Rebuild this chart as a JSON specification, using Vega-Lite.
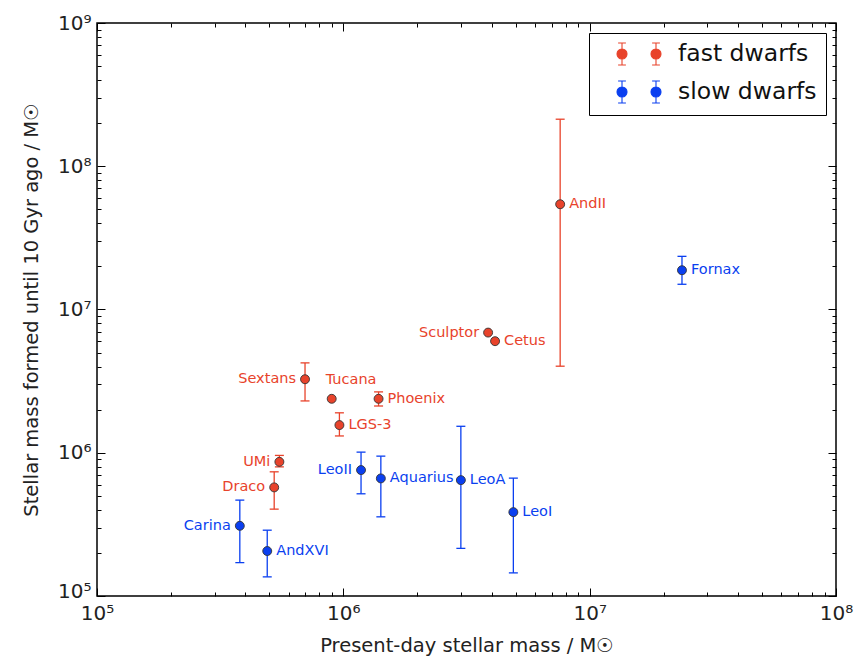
{
  "$schema": "https://vega.github.io/schema/vega-lite/v6.json",
  "width": 739,
  "height": 573,
  "autosize": "none",
  "padding": {"left": 97, "top": 23, "right": 30, "bottom": 62},
  "background": "white",
  "config": {
    "font": "DejaVu Sans",
    "view": {"stroke": "black", "strokeWidth": 1.5},
    "axis": {"grid": false, "domain": false, "tickColor": "black", "tickWidth": 1, "labelFont": "DejaVu Sans", "titleFont": "DejaVu Sans", "labelColor": "#222", "titleColor": "#222", "titleFontWeight": "normal", "labelFlush": false, "labelOverlap": false}
  },
  "data": {
    "values": [
      {"name": "AndII", "group": "fast dwarfs", "mass": 7590000, "sfm": 54300000, "lo": 4020000, "hi": 213000000},
      {"name": "Sculptor", "group": "fast dwarfs", "mass": 3870000, "sfm": 6900000, "lo": null, "hi": null},
      {"name": "Cetus", "group": "fast dwarfs", "mass": 4130000, "sfm": 6010000, "lo": null, "hi": null},
      {"name": "Sextans", "group": "fast dwarfs", "mass": 699000, "sfm": 3260000, "lo": 2300000, "hi": 4240000},
      {"name": "Tucana", "group": "fast dwarfs", "mass": 897000, "sfm": 2380000, "lo": null, "hi": null},
      {"name": "Phoenix", "group": "fast dwarfs", "mass": 1390000, "sfm": 2380000, "lo": 2120000, "hi": 2660000},
      {"name": "LGS-3", "group": "fast dwarfs", "mass": 964000, "sfm": 1560000, "lo": 1310000, "hi": 1900000},
      {"name": "UMi", "group": "fast dwarfs", "mass": 550000, "sfm": 864000, "lo": 797000, "hi": 958000},
      {"name": "Draco", "group": "fast dwarfs", "mass": 524000, "sfm": 573000, "lo": 404000, "hi": 736000},
      {"name": "Fornax", "group": "slow dwarfs", "mass": 23700000, "sfm": 18800000, "lo": 15000000, "hi": 23500000},
      {"name": "Carina", "group": "slow dwarfs", "mass": 380000, "sfm": 309000, "lo": 171000, "hi": 467000},
      {"name": "AndXVI", "group": "slow dwarfs", "mass": 491000, "sfm": 206000, "lo": 136000, "hi": 288000},
      {"name": "LeoII", "group": "slow dwarfs", "mass": 1180000, "sfm": 757000, "lo": 517000, "hi": 1010000},
      {"name": "Aquarius", "group": "slow dwarfs", "mass": 1420000, "sfm": 662000, "lo": 357000, "hi": 947000},
      {"name": "LeoA", "group": "slow dwarfs", "mass": 3000000, "sfm": 644000, "lo": 215000, "hi": 1530000},
      {"name": "LeoI", "group": "slow dwarfs", "mass": 4900000, "sfm": 385000, "lo": 145000, "hi": 665000}
    ]
  },
  "layer": [
    {
      "transform": [{"filter": "datum.lo != null"}],
      "mark": {"type": "rule", "strokeWidth": 1.3},
      "encoding": {
        "x": {"field": "mass", "type": "quantitative", "scale": {"type": "log", "domain": [100000, 100000000]},
          "axis": {"orient": "bottom", "title": "Present-day stellar mass  / M☉", "titleFontSize": 19.5, "titlePadding": 9, "labelFontSize": 20, "labelPadding": 15,
            "values": [100000,200000,300000,400000,500000,600000,700000,800000,900000,1000000,2000000,3000000,4000000,5000000,6000000,7000000,8000000,9000000,10000000,20000000,30000000,40000000,50000000,60000000,70000000,80000000,90000000,100000000],
            "labelExpr": "abs(log(datum.value)/LN10 - round(log(datum.value)/LN10)) < 0.000001 ? '10' + ['⁰','¹','²','³','⁴','⁵','⁶','⁷','⁸','⁹'][round(log(datum.value)/LN10)] : ''",
            "tickSize": {"condition": {"test": "abs(log(datum.value)/LN10 - round(log(datum.value)/LN10)) < 0.000001", "value": -8}, "value": -4}}},
        "y": {"field": "lo", "type": "quantitative", "scale": {"type": "log", "domain": [100000, 1000000000]},
          "axis": {"orient": "left", "title": "Stellar mass formed until 10 Gyr ago / M☉", "titleFontSize": 19.5, "titlePadding": 16, "labelFontSize": 20, "labelPadding": 14,
            "values": [100000,200000,300000,400000,500000,600000,700000,800000,900000,1000000,2000000,3000000,4000000,5000000,6000000,7000000,8000000,9000000,10000000,20000000,30000000,40000000,50000000,60000000,70000000,80000000,90000000,100000000,200000000,300000000,400000000,500000000,600000000,700000000,800000000,900000000,1000000000],
            "labelExpr": "abs(log(datum.value)/LN10 - round(log(datum.value)/LN10)) < 0.000001 ? '10' + ['⁰','¹','²','³','⁴','⁵','⁶','⁷','⁸','⁹'][round(log(datum.value)/LN10)] : ''",
            "labelOffset": {"condition": {"test": "datum.value < 150000", "value": -5}, "value": 0},
            "tickSize": {"condition": {"test": "abs(log(datum.value)/LN10 - round(log(datum.value)/LN10)) < 0.000001", "value": -8}, "value": -4}}},
        "y2": {"field": "hi"},
        "color": {"field": "group", "type": "nominal"}
      }
    },
    {
      "transform": [{"filter": "datum.lo != null"}, {"fold": ["lo", "hi"], "as": ["bound", "val"]}],
      "mark": {"type": "tick", "orient": "horizontal", "size": 9, "thickness": 1.3, "opacity": 1},
      "encoding": {
        "x": {"field": "mass", "type": "quantitative", "scale": {"type": "log", "domain": [100000, 100000000]},
          "axis": {"orient": "top", "title": null, "labels": false,
            "values": [100000,200000,300000,400000,500000,600000,700000,800000,900000,1000000,2000000,3000000,4000000,5000000,6000000,7000000,8000000,9000000,10000000,20000000,30000000,40000000,50000000,60000000,70000000,80000000,90000000,100000000],
            "tickSize": {"condition": {"test": "abs(log(datum.value)/LN10 - round(log(datum.value)/LN10)) < 0.000001", "value": -8}, "value": -4}}},
        "y": {"field": "val", "type": "quantitative", "scale": {"type": "log", "domain": [100000, 1000000000]},
          "axis": {"orient": "right", "title": null, "labels": false,
            "values": [100000,200000,300000,400000,500000,600000,700000,800000,900000,1000000,2000000,3000000,4000000,5000000,6000000,7000000,8000000,9000000,10000000,20000000,30000000,40000000,50000000,60000000,70000000,80000000,90000000,100000000,200000000,300000000,400000000,500000000,600000000,700000000,800000000,900000000,1000000000],
            "tickSize": {"condition": {"test": "abs(log(datum.value)/LN10 - round(log(datum.value)/LN10)) < 0.000001", "value": -8}, "value": -4}}},
        "color": {"field": "group", "type": "nominal"}
      }
    },
    {
      "mark": {"type": "point", "filled": true, "size": 80, "stroke": "#333", "strokeWidth": 0.9, "opacity": 1},
      "encoding": {
        "x": {"field": "mass", "type": "quantitative", "axis": null},
        "y": {"field": "sfm", "type": "quantitative", "axis": null},
        "color": {"field": "group", "type": "nominal",
          "scale": {"domain": ["fast dwarfs", "slow dwarfs"], "range": ["#e8432b", "#0a3ff0"]},
          "legend": {"title": null, "orient": "top-right", "offset": 10,
            "symbolType": "M-1.545,-1V1M-1.9,-1H-1.19M-1.9,1H-1.19M-2,0A0.455,0.455 0 1,0 -1.09,0A0.455,0.455 0 1,0 -2,0ZM1.545,-1V1M1.19,-1H1.9M1.19,1H1.9M1.09,0A0.455,0.455 0 1,0 2,0A0.455,0.455 0 1,0 1.09,0Z",
            "symbolSize": 484, "symbolStrokeWidth": 1.1, "symbolOpacity": 1,
            "labelFontSize": 23.5, "labelFont": "DejaVu Sans", "labelColor": "#111",
            "padding": 9, "rowPadding": 10, "symbolOffset": 29, "labelOffset": 27,
            "strokeColor": "black", "fillColor": "white", "cornerRadius": 0,
            "encode": {"symbols": {"update": {"stroke": {"scale": "color", "field": "value"}, "fill": {"scale": "color", "field": "value"}}}}}
        }
      }
    },
    {
      "transform": [{"filter": {"field": "name", "oneOf": ["AndII", "Cetus", "Phoenix", "LGS-3", "Fornax", "AndXVI", "Aquarius", "LeoA", "LeoI"]}}],
      "mark": {"type": "text", "align": "left", "baseline": "middle", "dx": 9, "fontSize": 14.5, "font": "DejaVu Sans"},
      "encoding": {
        "x": {"field": "mass", "type": "quantitative", "axis": null},
        "y": {"field": "sfm", "type": "quantitative", "axis": null},
        "text": {"field": "name"},
        "color": {"field": "group", "type": "nominal"}
      }
    },
    {
      "transform": [{"filter": {"field": "name", "oneOf": ["Sculptor", "Sextans", "UMi", "Draco", "Carina", "LeoII"]}}],
      "mark": {"type": "text", "align": "right", "baseline": "middle", "dx": -9, "fontSize": 14.5, "font": "DejaVu Sans"},
      "encoding": {
        "x": {"field": "mass", "type": "quantitative", "axis": null},
        "y": {"field": "sfm", "type": "quantitative", "axis": null},
        "text": {"field": "name"},
        "color": {"field": "group", "type": "nominal"}
      }
    },
    {
      "transform": [{"filter": {"field": "name", "oneOf": ["Tucana"]}}],
      "mark": {"type": "text", "align": "left", "baseline": "middle", "dx": -6, "dy": -19, "fontSize": 14.5, "font": "DejaVu Sans"},
      "encoding": {
        "x": {"field": "mass", "type": "quantitative", "axis": null},
        "y": {"field": "sfm", "type": "quantitative", "axis": null},
        "text": {"field": "name"},
        "color": {"field": "group", "type": "nominal"}
      }
    }
  ],
  "resolve": {"axis": {"x": "independent", "y": "independent"}}
}
